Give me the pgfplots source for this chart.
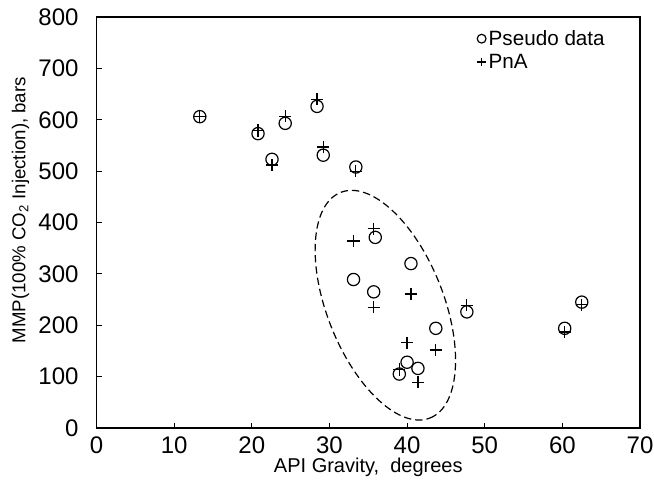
\documentclass[border=0pt]{standalone}
\usepackage{pgfplots}
\pgfplotsset{compat=1.18}
\usepackage{fontspec}
\setmainfont{Liberation Sans}

\pgfplotstableread{
x y
13.3 606
20.8 573
22.6 523
24.3 593
28.4 626
29.2 531
33.4 508
35.9 371
40.5 320
33.1 289
35.7 265
47.7 226
43.7 194
40.0 128
41.4 116
39.0 105
60.3 194
62.5 245
}\pseudo

\pgfplotstableread{
x y
13.3 606
20.8 579
22.6 512
24.3 607
28.4 640
29.2 547
33.4 500
35.7 388
33.1 364
35.7 235
40.5 261
47.7 239
43.7 152
40.0 166
39.0 114
41.4 89
60.3 187
62.5 240
}\pna

\begin{document}
\begin{tikzpicture}
\begin{axis}[
  name=ax,
  scale only axis,
  width=407.6pt, height=308.25pt,
  xmin=0, xmax=70, ymin=0, ymax=800,
  xtick={0,10,...,70}, ytick={0,100,...,800},
  tick align=inside, xtick pos=bottom, ytick pos=left,
  major tick length=4pt,
  axis line style={line width=0.8pt},
  every tick/.style={black, line width=0.8pt},
  /pgf/number format/assume math mode=true,
  tick label style={font=\fontsize{18}{21}\selectfont},
  xlabel style={font=\fontsize{15}{18}\selectfont, yshift=4pt},
  ylabel style={font=\fontsize{14}{17}\selectfont, at={(ticklabel cs:0.53)}},
  yticklabel shift=10pt,
  xticklabel shift=3pt,
  xlabel={API Gravity,~~degrees},
  ylabel={MMP(100\% CO\textsubscript{2} Injection), bars},
  legend style={draw=none, fill=none, at={(0.700,0.975)}, anchor=north west,
    font=\fontsize{15.5}{18}\selectfont, row sep=1pt, inner sep=0pt},
  legend cell align=left,
  legend image code/.code={\draw[mark repeat=2,mark phase=2,#1,mark size=3.3pt] plot coordinates {(0cm,0cm) (0.1cm,0cm) (0.25cm,0cm)};},
]
\addplot[only marks, mark=o, mark size=4.6pt, line width=0.9pt, black] table[x=x,y=y] {\pseudo};
\addlegendentry{Pseudo data}
\addplot[only marks, mark=+, mark size=4.6pt, line width=0.9pt, black] table[x=x,y=y] {\pna};
\addlegendentry{PnA}
\draw[dashed, dash pattern=on 5.5pt off 3pt, line width=0.9pt, shift={(axis cs:37.2,239)}, rotate=-68.4] (0pt,0pt) ellipse [x radius=91pt, y radius=43.7pt];
\end{axis}
\pgfresetboundingbox
\path ([xshift=-72.4pt,yshift=-39.75pt]ax.south west) rectangle ([xshift=10.5pt,yshift=12.75pt]ax.north east);
\end{tikzpicture}
\end{document}
